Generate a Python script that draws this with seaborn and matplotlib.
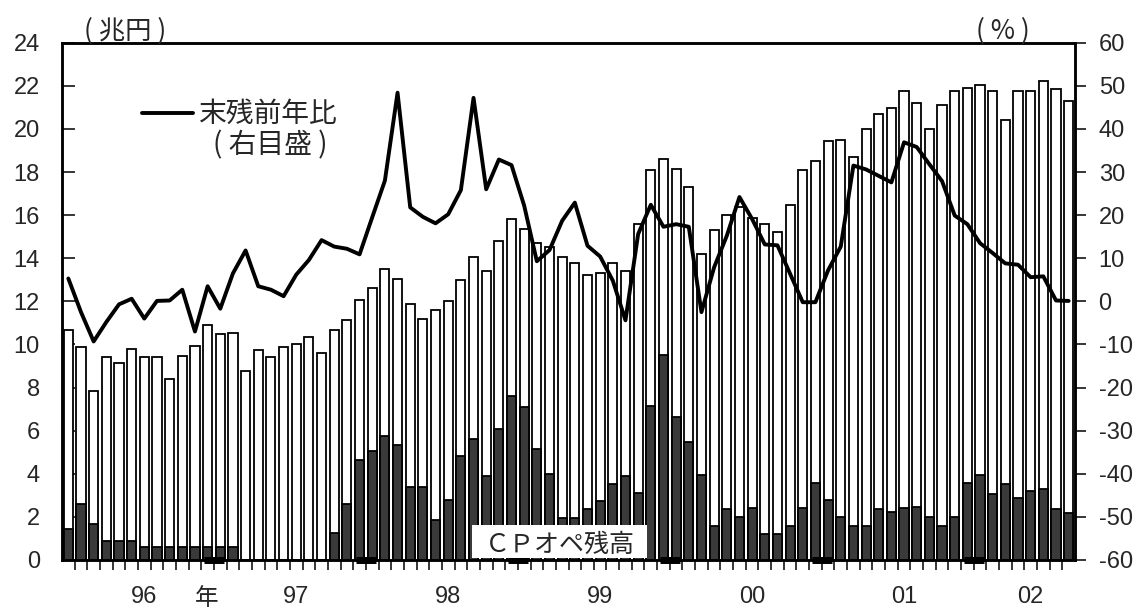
import numpy as np
import pandas as pd
import matplotlib
matplotlib.use("Agg")
import matplotlib.pyplot as plt
import seaborn as sns
from matplotlib.patches import Rectangle
from matplotlib.lines import Line2D

sns.set_style("ticks")
plt.rcParams["font.family"] = ["Liberation Sans", "Noto Sans CJK JP", "DejaVu Sans"]
plt.rcParams["axes.unicode_minus"] = False
CJK = ["Noto Sans CJK JP", "DejaVu Sans"]

# Monthly observations, Jan 1996 - Aug 2002
months = pd.period_range("1996-01", periods=80, freq="M")
year_labels = ["96", "97", "98", "99", "00", "01", "02"]

# Outstanding total (trillion yen, left axis)
total = [10.67, 9.86, 7.85, 9.43, 9.16, 9.77, 9.40, 9.42, 8.42, 9.47, 9.93, 10.88,
         10.50, 10.52, 8.77, 9.74, 9.40, 9.89, 10.04, 10.36, 9.60, 10.65, 11.13, 12.08,
         12.63, 13.48, 13.02, 11.88, 11.20, 11.60, 12.00, 13.00, 14.07, 13.40, 14.80, 15.80,
         15.35, 14.70, 14.50, 14.07, 13.80, 13.20, 13.33, 13.77, 13.40, 15.60, 18.10, 18.60,
         18.13, 17.30, 14.20, 15.30, 16.00, 16.40, 15.85, 15.60, 15.20, 16.45, 18.10, 18.50,
         19.45, 19.50, 18.70, 20.00, 20.70, 20.95, 21.75, 21.20, 20.00, 21.10, 21.75, 21.90,
         22.05, 21.75, 20.40, 21.75, 21.78, 22.20, 21.85, 21.30]

# CP operation outstanding (trillion yen, left axis)
cp_op = [1.42, 2.62, 1.67, 0.90, 0.90, 0.90, 0.62, 0.62, 0.62, 0.62, 0.62, 0.62,
         0.62, 0.62, 0.00, 0.00, 0.00, 0.00, 0.00, 0.00, 0.00, 1.25, 2.60, 4.62,
         5.07, 5.73, 5.34, 3.40, 3.40, 1.86, 2.78, 4.83, 5.63, 3.90, 6.06, 7.62,
         7.11, 5.17, 3.99, 1.93, 1.93, 2.35, 2.75, 3.53, 3.90, 3.12, 7.15, 9.51,
         6.65, 5.49, 3.94, 1.58, 2.35, 1.98, 2.40, 1.20, 1.20, 1.59, 2.40, 3.59,
         2.78, 2.01, 1.59, 1.59, 2.35, 2.24, 2.40, 2.45, 2.01, 1.59, 1.98, 3.59,
         3.94, 3.06, 3.53, 2.86, 3.22, 3.30, 2.35, 2.17]

# Year-on-year change of month-end outstanding (%, right axis)
yoy = [5.3, -2.5, -9.3, -4.8, -0.7, 0.6, -4.0, 0.1, 0.2, 2.7, -7.0, 3.5,
       -1.7, 6.5, 11.8, 3.5, 2.7, 1.2, 6.2, 9.6, 14.2, 12.7, 12.2, 10.9,
       19.5, 28.0, 48.4, 21.8, 19.6, 18.1, 20.2, 25.8, 47.2, 26.0, 32.9, 31.6,
       22.2, 9.3, 11.9, 18.7, 22.9, 12.9, 10.4, 4.8, -4.4, 15.6, 22.4, 17.3,
       17.9, 17.3, -2.5, 7.9, 15.2, 24.2, 19.1, 13.2, 13.0, 6.4, -0.2, -0.2,
       7.2, 12.7, 31.5, 30.6, 29.1, 27.6, 36.9, 35.8, 31.8, 27.9, 19.9, 17.9,
       13.5, 11.2, 8.8, 8.5, 5.6, 5.8, 0.2, 0.1]

df = pd.DataFrame({"month": months.strftime("%Y-%m"), "total": total,
                   "cp": cp_op, "yoy": yoy})
df["pos"] = np.arange(len(df))

W, H = 1142, 615
fig = plt.figure(figsize=(W / 100, H / 100), dpi=100)
ax = fig.add_axes([62 / W, 1 - 560 / H, 1013 / W, 517.3 / H])

sns.barplot(data=df, x="month", y="total", color="white", saturation=1,
            edgecolor="black", linewidth=1.3, width=0.72, ax=ax, zorder=2)
sns.barplot(data=df, x="month", y="cp", color="#3a3a3a", saturation=1,
            edgecolor="black", linewidth=1.3, width=0.72, ax=ax, zorder=2)

ax.set_xlim(-0.5, len(df) - 0.5)
ax.set_ylim(0, 24)
ax.set_yticks(range(0, 25, 2))
ax.set_xlabel("")
ax.set_ylabel("")

# year labels centred under each year's block of months
year_idx = df.groupby(months.year)["pos"].agg(["min", "max"])
year_pos = ((year_idx["min"] + year_idx["max"] + 1) / 2).tolist()
ax.set_xticks(year_pos)
ax.set_xticklabels(year_labels)
ax.set_xticks(np.arange(0.5, len(df) - 0.5, 1), minor=True)
ax.tick_params(axis="x", which="major", length=0, pad=19, labelsize=17)
ax.tick_params(axis="x", which="minor", length=7, width=1.3, direction="out")
ax.tick_params(axis="y", direction="in", length=9, width=1.3, pad=16, labelsize=17)

# heavier marks at year boundaries on the time axis
year_breaks = [p - 0.5 for p, a, b in zip(df["pos"][1:], months[1:], months[:-1])
               if a.year != b.year]
ax.plot(year_breaks, [0] * len(year_breaks), ls="none", marker="_", ms=14, mew=5,
        color="black", clip_on=False, zorder=6)

ax2 = ax.twinx()
sns.lineplot(data=df, x="pos", y="yoy", ax=ax2, color="black", linewidth=2.8,
             zorder=4)
ax2.set_ylim(-60, 60)
ax2.set_yticks(range(-60, 61, 10))
ax2.set_ylabel("")
ax2.set_xlabel("")
ax2.tick_params(axis="y", direction="out", length=8, width=1.3, pad=9, labelsize=17)
ax2.set_xlim(-0.5, len(df) - 0.5)

for a in (ax, ax2):
    for s in a.spines.values():
        s.set_linewidth(1.8)
        s.set_color("black")
        s.set_visible(True)

# label box for the dark bars
ax2.add_patch(Rectangle(((472 - 62) / 1013, 0.003), 175 / 1013, 33 / 517.3,
                        transform=ax2.transAxes, facecolor="white",
                        edgecolor="none", zorder=3))
ax2.text((559.5 - 62) / 1013, 15 / 517.3, "ＣＰオペ残高", transform=ax2.transAxes,
         ha="center", va="center", fontsize=18, family=CJK, zorder=5)

# legend for the line
fig.add_artist(Line2D([142 / W, 193 / W], [1 - 113 / H] * 2, color="black", lw=2.8))
fig.text(199 / W, 1 - 114 / H, "末残前年比", fontsize=20, family=CJK,
         ha="left", va="center")
fig.text(270 / W, 1 - 145 / H, "( 右目盛 )", fontsize=20, family=CJK,
         ha="center", va="center")

# unit labels
fig.text(125 / W, 1 - 31 / H, "( 兆円 )", fontsize=19, family=CJK,
         ha="center", va="center")
fig.text(1003 / W, 1 - 31 / H, "( % )", fontsize=19, family=CJK,
         ha="center", va="center")
fig.text(207 / W, 1 - 587 / H, "年", fontsize=17, family=CJK,
         ha="center", va="top")

fig.savefig("out.png", dpi=100)
